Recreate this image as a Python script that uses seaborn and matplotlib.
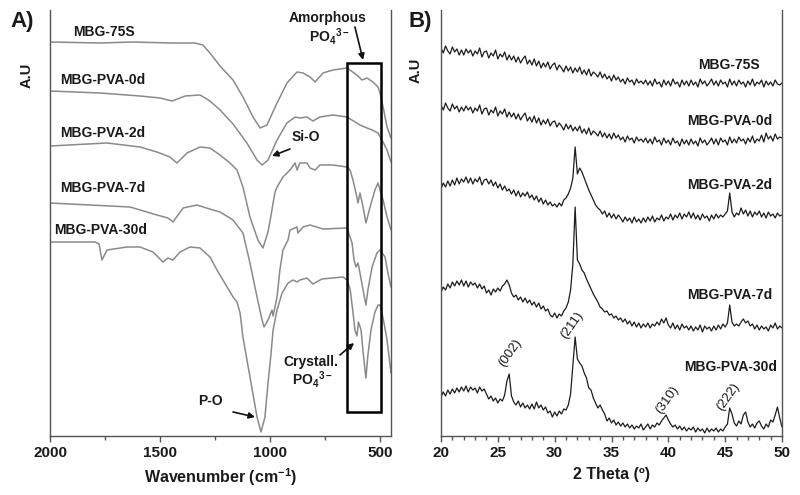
import numpy as np
import pandas as pd
import seaborn as sns
import matplotlib.pyplot as plt
from matplotlib.patches import Rectangle
from matplotlib.ticker import MultipleLocator

# FTIR spectra (panel A): wavenumber (cm-1) and transmittance-like offset (A.U)
wn_75s = [2000, 1773, 1623, 1455, 1341, 1305, 1273, 1227, 1168, 1123, 1077, 1045, 1014, 968, 923, 877,
          850, 818, 795, 759, 714, 650, 605, 582, 559, 532, 509, 500, 486, 468, 450]
ir_75s = [394, 393, 394, 393, 393, 391, 383, 370, 356, 339, 319, 308, 311, 333, 353, 364,
          363, 359, 354, 363, 366, 368, 361, 356, 358, 354, 349, 343, 329, 309, 298]

wn_0d = [2000, 1773, 1591, 1500, 1445, 1386, 1318, 1273, 1227, 1168, 1105, 1059, 1036, 1009, 968,
         923, 886, 864, 832, 805, 773, 714, 650, 591, 559, 536, 509, 491, 468, 450]
ir_0d = [345, 343, 340, 338, 335, 340, 341, 335, 326, 312, 293, 276, 271, 276, 296,
         313, 319, 318, 319, 315, 319, 321, 319, 311, 308, 306, 303, 296, 286, 274]

wn_2d = [2000, 1741, 1591, 1514, 1455, 1423, 1377, 1318, 1273, 1227, 1182, 1150, 1123, 1091, 1055,
         1032, 1009, 995, 986, 977, 968, 941, 909, 886, 877, 864, 832, 818, 795, 773,
         714, 650, 636, 623, 605, 600, 591, 577, 564, 545, 523, 509, 500, 486, 468, 450]
ir_2d = [290, 293, 289, 284, 279, 273, 283, 289, 288, 281, 273, 266, 249, 219, 196,
         188, 204, 221, 233, 244, 249, 259, 266, 273, 266, 273, 273, 268, 266, 271,
         271, 269, 266, 256, 239, 233, 243, 229, 213, 229, 246, 253, 246, 236, 219, 206]

wn_7d = [2000, 1636, 1514, 1464, 1441, 1395, 1332, 1259, 1227, 1168, 1123, 1091, 1059, 1036, 1027,
         1009, 991, 986, 968, 955, 941, 918, 909, 877, 873, 850, 818, 759, 650, 627,
         618, 609, 600, 591, 577, 564, 555, 536, 514, 500, 477, 464, 450]
ir_7d = [233, 229, 221, 218, 214, 228, 231, 226, 224, 216, 203, 173, 139, 116, 109,
         116, 126, 120, 139, 166, 186, 196, 206, 209, 203, 209, 211, 207, 208, 193,
         176, 169, 173, 163, 146, 131, 146, 169, 183, 186, 179, 163, 149]

wn_30d = [2000, 1795, 1777, 1764, 1750, 1741, 1650, 1591, 1532, 1486, 1464, 1441, 1409, 1364, 1318,
          1273, 1241, 1195, 1168, 1150, 1136, 1123, 1091, 1059, 1041, 1023, 1009, 995, 986, 968,
          945, 918, 895, 877, 864, 832, 805, 764, 668, 650, 636, 623, 614, 605, 598,
          586, 577, 564, 555, 541, 523, 509, 500, 486, 468, 450]
ir_30d = [194, 194, 192, 176, 182, 186, 189, 189, 184, 174, 178, 176, 184, 189, 188,
          179, 166, 149, 139, 134, 123, 99, 59, 19, 4, 19, 53, 83, 106, 126,
          143, 153, 156, 154, 156, 158, 152, 157, 159, 156, 147, 124, 106, 100, 114,
          106, 84, 58, 81, 106, 124, 131, 131, 118, 96, 63]

# XRD patterns (panel B): intensity every 0.2 deg from 20 to 50 deg 2theta
two_theta = np.round(np.arange(20, 50.01, 0.2), 1)
xrd_75s = [388, 383, 390, 385, 382, 389, 384, 387, 381, 386,
           381, 387, 383, 386, 380, 385, 382, 388, 379, 384,
           385, 378, 383, 380, 386, 377, 382, 379, 384, 376,
           381, 376, 380, 374, 379, 373, 377, 380, 372, 376,
           371, 377, 370, 375, 368, 373, 369, 374, 367, 371,
           373, 366, 371, 368, 364, 370, 365, 369, 363, 368,
           364, 369, 362, 366, 361, 367, 360, 364, 362, 359,
           364, 358, 362, 357, 360, 355, 361, 356, 359, 354,
           357, 352, 358, 354, 356, 351, 357, 353, 355, 352,
           356, 351, 355, 350, 357, 352, 354, 349, 356, 351,
           355, 350, 357, 352, 354, 349, 356, 351, 355, 350,
           356, 351, 354, 349, 357, 352, 355, 350, 353, 357,
           351, 355, 350, 356, 352, 354, 349, 357, 351, 355,
           350, 356, 352, 354, 349, 355, 351, 357, 350, 354,
           352, 356, 349, 355, 351, 354, 350, 356, 352, 351,
           353]
xrd_0d = [331, 326, 333, 328, 325, 332, 327, 330, 324, 329,
          325, 330, 326, 329, 323, 328, 325, 331, 322, 327,
          328, 321, 326, 323, 329, 320, 325, 322, 327, 319,
          324, 319, 323, 317, 322, 316, 320, 323, 315, 319,
          314, 320, 313, 318, 311, 316, 312, 317, 310, 314,
          315, 309, 313, 310, 306, 312, 307, 311, 305, 309,
          305, 310, 303, 307, 302, 308, 301, 305, 303, 300,
          305, 299, 303, 298, 302, 297, 303, 298, 301, 296,
          299, 294, 300, 296, 298, 293, 299, 295, 297, 294,
          298, 293, 297, 292, 299, 294, 296, 291, 298, 293,
          296, 291, 298, 293, 295, 290, 297, 292, 296, 291,
          297, 292, 295, 290, 298, 293, 296, 291, 294, 298,
          292, 297, 291, 298, 294, 296, 291, 299, 293, 297,
          293, 299, 295, 297, 292, 298, 294, 300, 293, 297,
          295, 301, 294, 303, 297, 300, 295, 302, 297, 299,
          298]
xrd_2d = [247, 253, 249, 255, 250, 256, 251, 258, 252, 257,
          254, 259, 253, 258, 252, 257, 254, 259, 251, 256,
          257, 252, 256, 250, 254, 248, 252, 246, 250, 245,
          247, 242, 246, 240, 245, 239, 243, 240, 244, 238,
          241, 236, 240, 234, 238, 232, 236, 231, 234, 230,
          232, 229, 233, 230, 236, 238, 242, 248, 258, 289,
          262, 268, 264, 258, 252, 246, 241, 236, 231, 228,
          226, 222, 225, 219, 223, 218, 222, 217, 221, 218,
          214, 219, 215, 218, 213, 219, 214, 217, 213, 218,
          214, 219, 215, 220, 214, 218, 216, 221, 215, 219,
          217, 222, 216, 221, 218, 223, 217, 222, 219, 224,
          218, 223, 217, 221, 216, 222, 218, 220, 215, 221,
          217, 222, 218, 221, 219, 222, 225, 243, 224, 219,
          223, 221, 228, 222, 226, 220, 225, 219, 224, 221,
          225, 219, 223, 218, 224, 220, 222, 218, 223, 220,
          221]
xrd_7d = [144, 149, 146, 152, 148, 154, 150, 155, 151, 156,
          150, 155, 149, 154, 151, 153, 148, 152, 147, 150,
          143, 146, 141, 147, 144, 148, 145, 150, 152, 156,
          151, 143, 139, 141, 136, 139, 134, 138, 133, 136,
          131, 134, 129, 133, 127, 130, 125, 127, 121, 119,
          123, 118, 122, 120, 125, 128, 134, 146, 172, 229,
          176, 172, 166, 163, 157, 152, 147, 142, 138, 134,
          129, 127, 124, 125, 121, 122, 118, 120, 116, 118,
          114, 117, 112, 115, 110, 114, 109, 113, 108, 112,
          109, 113, 108, 112, 110, 114, 111, 117, 113, 118,
          111, 108, 113, 107, 111, 106, 112, 108, 110, 106,
          110, 105, 109, 106, 111, 104, 110, 107, 109, 105,
          110, 106, 111, 107, 112, 109, 113, 131, 114, 110,
          112, 110, 114, 117, 113, 115, 110, 112, 107, 111,
          106, 110, 107, 109, 105, 111, 108, 113, 107, 110,
          108]
xrd_30d = [39, 44, 40, 46, 42, 47, 43, 48, 44, 49,
           45, 50, 44, 49, 46, 48, 43, 49, 45, 47,
           42, 37, 40, 35, 38, 33, 37, 35, 41, 55,
           62, 40, 34, 31, 35, 29, 33, 28, 31, 27,
           32, 27, 34, 28, 31, 26, 29, 23, 25, 19,
           24, 20, 25, 22, 27, 26, 31, 42, 70, 99,
           77, 73, 70, 63, 58, 48, 46, 38, 33, 28,
           31, 26, 22, 15, 18, 13, 16, 11, 14, 10,
           13, 9, 12, 8, 11, 7, 10, 8, 12, 6,
           9, 12, 7, 11, 9, 13, 11, 15, 18, 21,
           16, 12, 9, 11, 7, 10, 6, 9, 5, 8,
           6, 9, 4, 8, 5, 7, 3, 8, 4, 7,
           5, 8, 4, 7, 5, 9, 12, 28, 22, 13,
           10, 15, 12, 21, 24, 14, 9, 12, 8, 13,
           15, 10, 7, 12, 9, 16, 14, 21, 29, 18,
           9]

samples = ['MBG-75S', 'MBG-PVA-0d', 'MBG-PVA-2d', 'MBG-PVA-7d', 'MBG-PVA-30d']

# long-form tables for seaborn
ftir = pd.concat([
    pd.DataFrame({'wn': w, 'ab': a, 'sample': s})
    for w, a, s in zip([wn_75s, wn_0d, wn_2d, wn_7d, wn_30d],
                       [ir_75s, ir_0d, ir_2d, ir_7d, ir_30d], samples)])
xrd = pd.concat([
    pd.DataFrame({'tt': two_theta, 'I': v, 'sample': s})
    for v, s in zip([xrd_75s, xrd_0d, xrd_2d, xrd_7d, xrd_30d], samples)])

sns.set_theme(style="white")
plt.rcParams['font.family'] = ['Liberation Sans', 'DejaVu Sans']
plt.rcParams['mathtext.fontset'] = 'custom'
plt.rcParams['mathtext.rm'] = 'Liberation Sans'
plt.rcParams['mathtext.bf'] = 'Liberation Sans:bold'

txt = '#1a1a1a'
fig = plt.figure(figsize=(8, 4.95), dpi=100)
axA = fig.add_axes([50/800, 59/495, 341/800, 426/495])
axB = fig.add_axes([441/800, 59/495, 341/800, 426/495])

sns.lineplot(data=ftir, x='wn', y='ab', hue='sample', palette=['#8a8a8a']*5,
             estimator=None, legend=False, linewidth=1.1, ax=axA)
sns.lineplot(data=xrd, x='tt', y='I', hue='sample', palette=['#1c1c1c']*5,
             estimator=None, legend=False, linewidth=0.9, ax=axB)

for ax in (axA, axB):
    ax.set_ylim(0, 426)
    ax.set_yticks([])
    ax.set_ylabel('')
    ax.spines['top'].set_visible(False)
    for sp in ('left', 'right', 'bottom'):
        ax.spines[sp].set_color('#555555')
        ax.spines[sp].set_linewidth(1.0)
    ax.tick_params(axis='x', which='both', direction='out', bottom=True, colors='#555555',
                   labelcolor=txt, labelsize=11, pad=3)
    ax.tick_params(axis='x', which='major', length=4, width=1)
    ax.tick_params(axis='x', which='minor', length=3, width=1)

axA.set_xlim(2000, 450)
axA.xaxis.set_major_locator(MultipleLocator(500))
axA.xaxis.set_minor_locator(MultipleLocator(250))
axB.set_xlim(20, 50)
axB.xaxis.set_major_locator(MultipleLocator(5))
axB.xaxis.set_minor_locator(MultipleLocator(1))
for ax in (axA, axB):
    for lab in ax.get_xticklabels():
        lab.set_fontweight('bold')

axA.set_xlabel(r'Wavenumber (cm$^{\mathbf{-1}}$)', fontsize=11.5, fontweight='bold', color=txt, labelpad=5)
axB.set_xlabel('2 Theta (º)', fontsize=11.5, fontweight='bold', color=txt, labelpad=5)

# panel A labels and annotations
lab_kw = dict(fontsize=10, fontweight='bold', color=txt, va='center')
for s, (x, y) in zip(samples, [(1895, 404), (1955, 356), (1955, 303), (1955, 248), (1982, 206)]):
    axA.text(x, y, s, ha='left', **lab_kw)

po4 = r'PO$_\mathbf{4}$$^\mathbf{3-}$'
axA.add_patch(Rectangle((495, 24), 155, 349, fill=False, edgecolor='black', linewidth=1.8, zorder=5))
arrow = dict(arrowstyle='-|>', color='#111111', lw=1.2, mutation_scale=9, shrinkA=0, shrinkB=0)
axA.text(736, 418, 'Amorphous', ha='center', **lab_kw)
axA.text(728, 400, po4, ha='center', **lab_kw)
axA.annotate('', xy=(577, 376), xytext=(614, 409), arrowprops=arrow)
axA.text(836, 299, 'Si-O', ha='center', **lab_kw)
axA.annotate('', xy=(991, 280), xytext=(909, 287), arrowprops=arrow)
axA.text(814, 74, 'Crystall.', ha='center', **lab_kw)
axA.text(807, 56, po4, ha='center', **lab_kw)
axA.annotate('', xy=(618, 93), xytext=(682, 81), arrowprops=arrow)
axA.text(1273, 35, 'P-O', ha='center', **lab_kw)
axA.annotate('', xy=(1068, 19), xytext=(1168, 24), arrowprops=arrow)

# panel B labels
for s, (x, y) in zip(samples, [(48.06, 371), (49.11, 315), (49.11, 251), (49.11, 141), (49.55, 69)]):
    axB.text(x, y, s, ha='right', **lab_kw)
for s, (x, y) in zip(['(002)', '(211)', '(310)', '(222)'],
                     [(26.07, 83), (31.52, 111), (39.88, 36), (45.24, 39)]):
    axB.text(x, y, s, ha='center', va='center', rotation=55, fontsize=9.5, color=txt)

fig.text(22/800, 1 - 22/495, 'A)', fontsize=16, fontweight='bold', color=txt, ha='center', va='center')
fig.text(420/800, 1 - 22/495, 'B)', fontsize=16, fontweight='bold', color=txt, ha='center', va='center')
fig.text(27/800, 1 - 75/495, 'A.U', fontsize=10.5, fontweight='bold', color=txt, rotation=90,
         ha='center', va='center')
fig.text(416/800, 1 - 70/495, 'A.U', fontsize=10.5, fontweight='bold', color=txt, rotation=90,
         ha='center', va='center')

fig.savefig('out.png', dpi=100, facecolor='white')
